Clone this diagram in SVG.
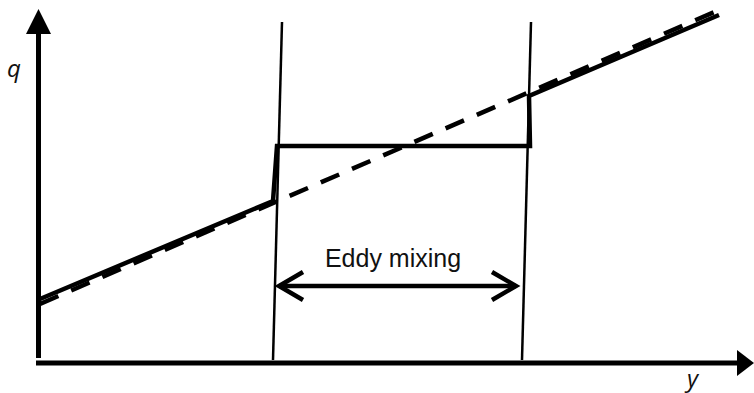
<svg xmlns="http://www.w3.org/2000/svg" width="754" height="393" viewBox="0 0 754 393">
<style>
.ax{stroke:#000;stroke-width:5;fill:none}
.thin{stroke:#000;stroke-width:2.5;fill:none}
.sol{stroke:#000;stroke-width:4.5;fill:none;stroke-linecap:butt}
.dash{stroke:#000;stroke-width:4.5;fill:none;stroke-dasharray:20 14}
.lbl{font-family:"Open Sans","Noto Sans",sans-serif;font-style:italic;font-size:24px;fill:#111}
.txt{font-family:"Liberation Sans",Arial,sans-serif;font-size:25px;fill:#111}
</style>
<rect width="754" height="393" fill="#fff"/>
<g id="axes">
<line class="ax" x1="38.5" y1="358" x2="38.5" y2="30"/>
<polygon points="38.5,9 51,34 26,34" fill="#000"/>
<line class="ax" x1="36" y1="363" x2="740" y2="363"/>
<polygon points="754,363 737,350 737,376" fill="#000"/>
<text class="lbl" x="7" y="77">q</text>
<text class="lbl" x="687" y="387">y</text>
</g>
<g id="boundaries">
<line class="thin" x1="282" y1="22" x2="273" y2="360"/>
<line class="thin" x1="531" y1="22" x2="522" y2="360"/>
</g>
<g id="connectors">
<line class="dash" x1="40" y1="304" x2="719" y2="10"/>
<polyline class="sol" points="40,299 273,201 277,146 530,146 529,96 719,15"/>
</g>
<g id="eddy">
<text class="txt" x="393" y="267" text-anchor="middle">Eddy mixing</text>
<line class="sol" x1="279" y1="286" x2="516" y2="286"/>
<polyline class="sol" points="303,272 279,286 303,300" stroke-linejoin="miter"/>
<polyline class="sol" points="492,272 516,286 492,300" stroke-linejoin="miter"/>
</g>
</svg>
